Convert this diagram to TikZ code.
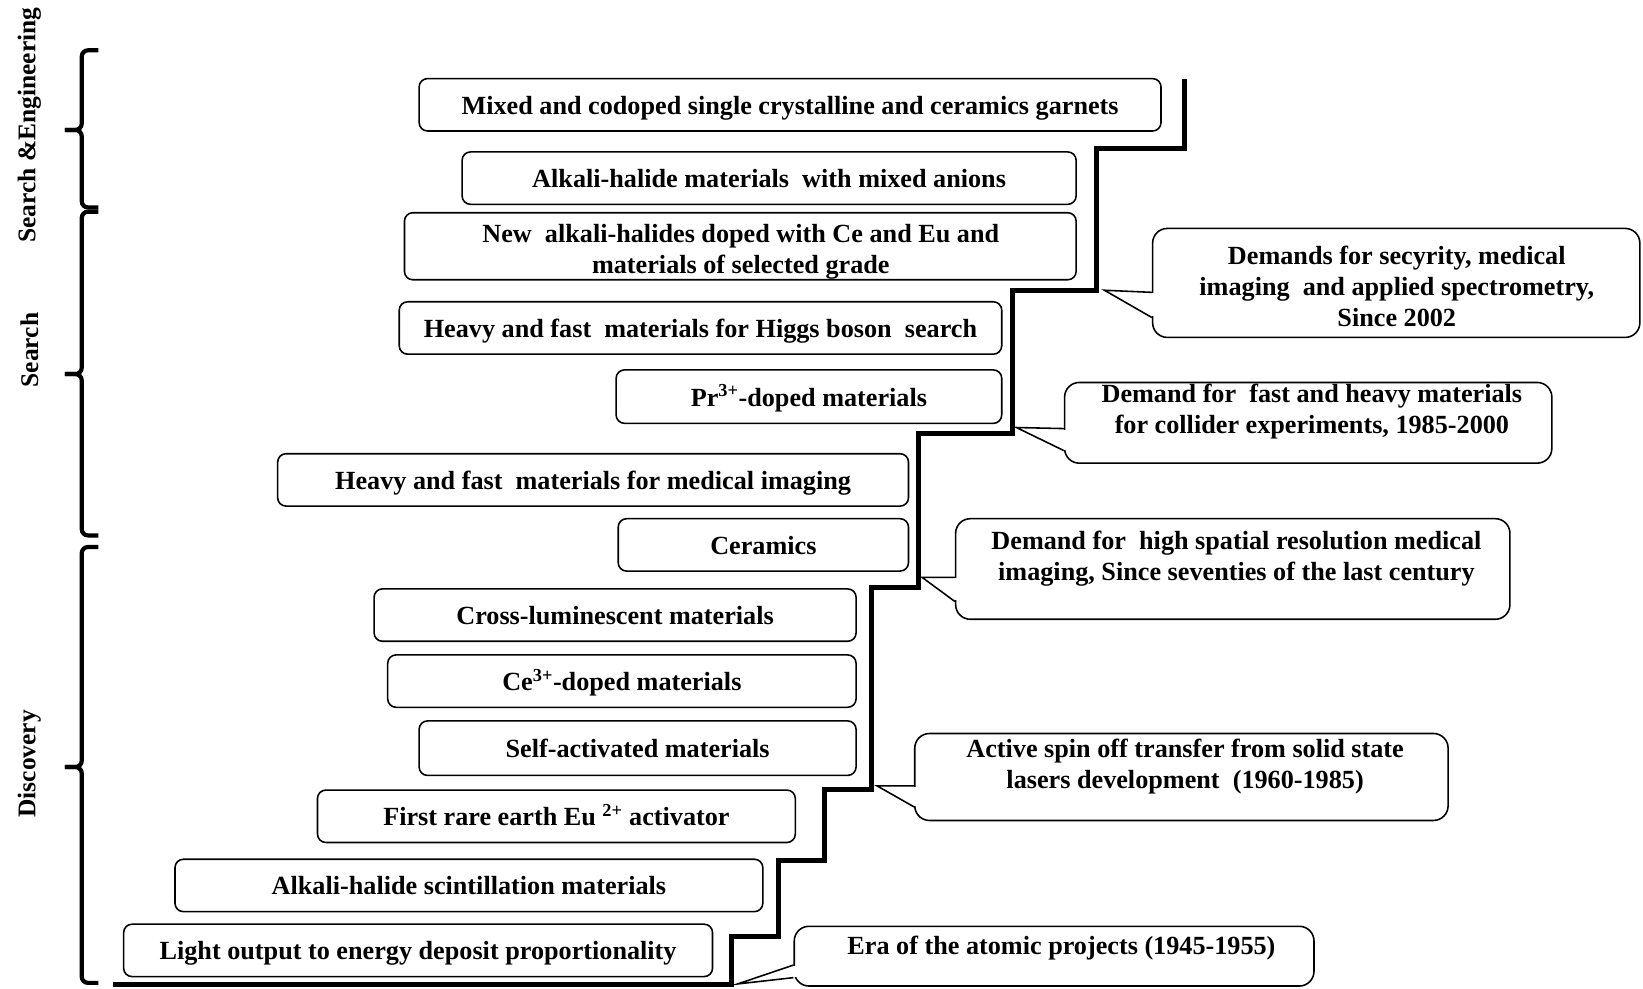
\documentclass[tikz,border=0pt]{standalone}
\usepackage{fontspec}
\setmainfont{Liberation Serif}

\tikzset{
    boxbase/.style={draw, line width=1.5pt, rounded corners=8pt, inner sep=0pt},
    matbox/.style={boxbase, text height=18pt, text depth=0pt,
        font=\bfseries\fontsize{25}{29.5}\selectfont},
    callbox/.style={draw, line width=1.5pt, rounded corners=14pt, fill=white, inner sep=0pt},
    calltext/.style={inner sep=0pt, align=center, font=\bfseries\fontsize{25}{29.5}\selectfont},
    eralabel/.style={rotate=90, inner sep=0pt, font=\bfseries\fontsize{24.3}{29}\selectfont},
    brace/.style={line width=4pt, rounded corners=6pt},
    stairs/.style={line width=4.8pt},
    pointer/.style={line width=1.5pt}
}

\begin{document}
\begin{tikzpicture}[x=1pt, y=-1pt]

    %% Scintillation materials and the demands behind them

    \useasboundingbox (0, 0) rectangle (1568, 943);

    % Stairs
    \draw[stairs] (108, 940) -- (698, 940) -- (698, 894) -- (743, 894) -- (743, 821)
        -- (787, 821) -- (787, 753) -- (832, 753) -- (832, 561) -- (877, 561)
        -- (877, 414) -- (966, 414) -- (966, 277) -- (1046, 277) -- (1046, 142)
        -- (1130, 142) -- (1130, 75);

    % Materials
    \node [matbox, minimum width=708pt, minimum height=50pt] (mixed) at (754, 100) {Mixed and codoped single crystalline and ceramics garnets};
    \node [matbox, minimum width=586pt, minimum height=50pt] (anions) at (734, 170) {Alkali-halide materials~ with mixed anions};
    \node [boxbase, minimum width=641pt, minimum height=64pt] (newhalide) at (706.5, 235) {};
    \node [calltext] (newtext) at (707, 240) {New~ alkali-halides doped with Ce and Eu and\\materials of selected grade};
    \node [matbox, minimum width=575pt, minimum height=50pt] (higgs) at (668.5, 313) {Heavy and fast~ materials for Higgs boson~ search};
    \node [matbox, minimum width=368pt, minimum height=51pt] (prdoped) at (772, 378.5) {Pr\textsuperscript{3+}-doped materials};
    \node [matbox, minimum width=602pt, minimum height=50pt] (medical) at (566, 458) {Heavy and fast~ materials for medical imaging};
    \node [matbox, minimum width=277pt, minimum height=50pt] (ceramics) at (728.5, 520) {Ceramics};
    \node [matbox, minimum width=460pt, minimum height=50pt] (crosslum) at (587, 587) {Cross-luminescent materials};
    \node [matbox, minimum width=447pt, minimum height=50pt] (cedoped) at (593.5, 650) {Ce\textsuperscript{3+}-doped materials};
    \node [matbox, minimum width=417pt, minimum height=52pt] (selfact) at (608.5, 714) {Self-activated materials};
    \node [matbox, minimum width=456pt, minimum height=50pt] (rareearth) at (531, 779) {First rare earth Eu \textsuperscript{2+} activator};
    \node [matbox, minimum width=561pt, minimum height=50pt] (alkscint) at (447.5, 845) {Alkali-halide scintillation materials};
    \node [matbox, minimum width=562pt, minimum height=50pt] (lightout) at (399, 907) {Light output to energy deposit proportionality};

    % Demands
    \node [callbox, minimum width=465pt, minimum height=104pt] (secdemand) at (1332.5, 270) {};
    \node [calltext] (sectext) at (1333, 273) {Demands for secyrity, medical\\imaging~ and applied spectrometry,\\Since 2002};

    \node [callbox, minimum width=465pt, minimum height=77pt] (colldemand) at (1248.5, 403.5) {};
    \node [calltext] (colltext) at (1252, 392.5) {Demand for~ fast and heavy materials\\for collider experiments, 1985-2000};

    \node [callbox, minimum width=529pt, minimum height=96pt] (meddemand) at (1176.5, 543) {};
    \node [calltext] (medtext) at (1180, 533) {Demand for~ high spatial resolution medical\\imaging, Since seventies of the last century};

    \node [callbox, minimum width=509pt, minimum height=83pt] (laserspin) at (1127.5, 741.5) {};
    \node [calltext] (lasertext) at (1131, 731.5) {Active spin off transfer from solid state\\lasers development~ (1960-1985)};

    \node [callbox, minimum width=496pt, minimum height=57pt] (atomic) at (1006, 912.5) {};
    \node [calltext] (atomictext) at (1013, 905) {Era of the atomic projects (1945-1955)};

    % Pointers
    \coordinate (tipsec) at (1054, 277);
    \fill[white] (1098, 280) rectangle (1103, 302);
    \draw[pointer] (secdemand.west |- 0, 279) -- (tipsec) -- (secdemand.west |- 0, 303);

    \coordinate (tipcoll) at (970, 408);
    \fill[white] (1014, 410) rectangle (1019, 429);
    \draw[pointer] (colldemand.west |- 0, 409) -- (tipcoll) -- (colldemand.west |- 0, 430);

    \coordinate (tipmed) at (880, 551);
    \fill[white] (910, 552) rectangle (915, 573);
    \draw[pointer] (meddemand.west |- 0, 551) -- (tipmed) -- (meddemand.west |- 0, 574);

    \coordinate (tiplaser) at (837, 750);
    \fill[white] (871, 751) rectangle (876, 769);
    \draw[pointer] (laserspin.west |- 0, 750) -- (tiplaser) -- (laserspin.west |- 0, 770);

    \coordinate (tipatomic) at (704, 939);
    \fill[white] (756, 922) rectangle (761, 932);
    \draw[pointer] (atomic.west |- 0, 921) -- (tipatomic) -- (atomic.west |- 0, 933);

    % Braces
    \draw[brace] (94, 48) -- (78, 48) -- (78, 124) -- (62, 124);
    \draw[brace] (62, 124) -- (78, 124) -- (78, 198) -- (94, 198);
    \draw[brace] (94, 202) -- (78, 202) -- (78, 357) -- (62, 357);
    \draw[brace] (62, 357) -- (78, 357) -- (78, 511) -- (94, 511);
    \draw[brace] (94, 522) -- (78, 522) -- (78, 732) -- (62, 732);
    \draw[brace] (62, 732) -- (78, 732) -- (78, 938) -- (94, 938);

    % Stages
    \node [eralabel] (searcheng) at (28, 119.5) {Search \&Engineering};
    \node [eralabel] (search) at (28, 334) {Search};
    \node [eralabel] (discovery) at (28, 729) {Discovery};

\end{tikzpicture}
\end{document}
